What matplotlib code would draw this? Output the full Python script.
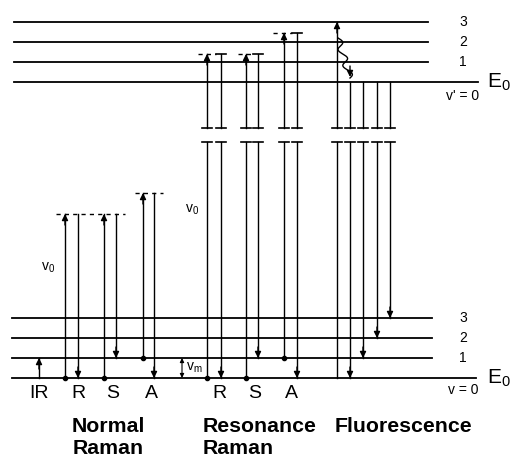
import numpy as np
import matplotlib.pyplot as plt

plt.rcParams['font.family'] = ['Liberation Sans', 'DejaVu Sans']
plt.rcParams['mathtext.fontset'] = 'custom'
plt.rcParams['mathtext.rm'] = 'Liberation Sans'
plt.rcParams['mathtext.it'] = 'Liberation Sans'

# energies in units of one vibrational quantum
lower_levels = [0, 1, 2, 3]
upper_levels = [14.8, 15.8, 16.8, 17.8]
level_labels = ['0', '1', '2', '3']
gap = (11.8, 12.5)  # break in the long lines

# normal Raman: IR, R, S, A
ir_x, ir_from, ir_to = 39, 0, 1
nr_up_x = [65, 104, 143]
nr_up_from = [0, 0, 1]
nr_virtual = [8.2, 8.2, 9.25]
nr_down_x = [78, 116, 154]
nr_down_to = [0, 1, 0]
nr_dash = [(56, 125, 8.2), (135, 163, 9.25)]

# resonance Raman: R, S, A
rr_up_x = [207, 246, 284]
rr_up_from = [0, 0, 1]
rr_virtual = [16.2, 16.2, 17.25]
rr_down_x = [221, 258, 297]
rr_down_to = [0, 1, 0]
rr_dash = [(198, 216, 16.2), (238, 253, 16.2), (273, 292, 17.25)]

# fluorescence
fl_up_x, fl_up_to = 337, 17.8
fl_down_x = [350, 363, 377, 390]
fl_down_to = [0, 1, 2, 3]

fig = plt.figure(figsize=(5.22, 4.68), dpi=100)
ax = fig.add_axes([0, 0, 1, 1])
ax.set_xlim(0, 522)
ax.set_ylim(-4.5, 18.9)
ax.axis('off')

K = 'black'


def head(x, e, up):
    d = -0.55 if up else 0.55
    ax.annotate('', xy=(x, e), xytext=(x, e + d),
                arrowprops=dict(arrowstyle='-|>', color=K, lw=1.0,
                                mutation_scale=9, shrinkA=0, shrinkB=0))


def vline(x, e0, e1, arrow=True, dot=False, top_bar=False):
    lo, hi = min(e0, e1), max(e0, e1)
    if lo < gap[0] and hi > gap[1]:
        segs = [(lo, gap[0]), (gap[1], hi)]
        for g in gap:
            ax.plot([x - 5, x + 5], [g, g], color=K, lw=1.2)
    else:
        segs = [(lo, hi)]
    for a, b in segs:
        ax.plot([x, x], [a, b], color=K, lw=1.0)
    if arrow:
        head(x, e1, e1 > e0)
    if dot:
        ax.plot(x, e0, 'o', color=K, ms=3)
    if top_bar:
        ax.plot([x - 5, x + 5], [hi, hi], color=K, lw=1.2)


# levels
for e in lower_levels:
    ax.plot([12, 476 if e == 0 else 432], [e, e], color=K, lw=1.3)
for e in upper_levels:
    ax.plot([14, 478 if e == upper_levels[0] else 428], [e, e], color=K, lw=1.3)

for e, lab in zip(lower_levels[1:], level_labels[1:]):
    ax.text(463, e, lab, ha='center', va='center', fontsize=10)
for e, lab in zip(upper_levels[1:], level_labels[1:]):
    ax.text(463, e, lab, ha='center', va='center', fontsize=10)
ax.text(463, -0.62, 'v = 0', ha='center', va='center', fontsize=10)
ax.text(463, upper_levels[0] - 0.68, "v' = 0", ha='center', va='center', fontsize=10)
ax.text(487, 0, r'E$_0$', ha='left', va='center', fontsize=15)
ax.text(487, upper_levels[0], r'E$_0$', ha='left', va='center', fontsize=15)

# normal Raman
vline(ir_x, ir_from, ir_to)
for x, e0, e1 in zip(nr_up_x, nr_up_from, nr_virtual):
    vline(x, e0, e1, dot=True)
for x, e0, e1 in zip(nr_down_x, nr_virtual, nr_down_to):
    vline(x, e0, e1)
for x0, x1, e in nr_dash:
    ax.plot([x0, x1], [e, e], color=K, lw=1.0, ls=(0, (3, 3)))

# resonance Raman
for x, e0, e1 in zip(rr_up_x, rr_up_from, rr_virtual):
    vline(x, e0, e1, dot=True)
for x, e0, e1 in zip(rr_down_x, rr_virtual, rr_down_to):
    vline(x, e0, e1, top_bar=True)
for x0, x1, e in rr_dash:
    ax.plot([x0, x1], [e, e], color=K, lw=1.0, ls=(0, (3, 3)))

# fluorescence
vline(fl_up_x, 0, fl_up_to)
for x, e1 in zip(fl_down_x, fl_down_to):
    vline(x, upper_levels[0], e1)

# radiationless relaxation (wavy)
t = np.linspace(0, 1, 200)
wx = 338 + 12 * t + 3.5 * np.sin(t * 2 * np.pi * 2.5)
wy = 17.0 - 2.0 * t
ax.plot(wx, wy, color=K, lw=1.0)
head(350, 15.05, False)

# nu_m and nu_0 labels
ax.annotate('', xy=(182, 1), xytext=(182, 0),
            arrowprops=dict(arrowstyle='<|-|>', color=K, lw=0.8,
                            mutation_scale=6, shrinkA=0, shrinkB=0))
ax.text(186, 0.5, r'v$_\mathrm{m}$', ha='left', va='center', fontsize=10)
ax.text(41, 5.5, r'v$_0$', ha='left', va='center', fontsize=10)
ax.text(185, 8.4, r'v$_0$', ha='left', va='center', fontsize=10)

# bottom labels
for x, s in zip([39, 78, 113, 151, 219, 255, 291],
                ['IR', 'R', 'S', 'A', 'R', 'S', 'A']):
    ax.text(x, -0.75, s, ha='center', va='center', fontsize=14)
bold = dict(va='center', fontsize=15.3, fontweight='bold')
ax.text(108, -2.45, 'Normal', ha='center', **bold)
ax.text(108, -3.5, 'Raman', ha='center', **bold)
ax.text(203, -2.45, 'Resonance', ha='left', **bold)
ax.text(203, -3.5, 'Raman', ha='left', **bold)
ax.text(335, -2.45, 'Fluorescence', ha='left', **bold)

fig.savefig('out.png', dpi=100)
